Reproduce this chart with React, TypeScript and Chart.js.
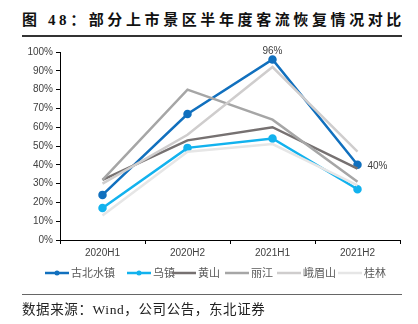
import React, { useEffect, useRef } from "react";
import { Chart, registerables } from "chart.js";

Chart.register(...registerables);

const categories = ["2020H1", "2020H2", "2021H1", "2021H2"];
const seriesNames = ["古北水镇", "乌镇", "黄山", "丽江", "峨眉山", "桂林"];
const gubei = [24, 67, 96, 40];
const wuzhen = [17, 49, 54, 27];
const huangshan = [32, 53, 60, 38];
const lijiang = [32, 80, 64, 31];
const emeishan = [30, 56, 92, 47];
const guilin = [13, 47, 51, 29];
const seriesColors = ["#1170BE", "#12B2EE", "#767171", "#A6A6A6", "#CFCDCD", "#E6E6E6"];
const yTicks = [0, 10, 20, 30, 40, 50, 60, 70, 80, 90, 100];
const titleText = "图 48：部分上市景区半年度客流恢复情况对比";
const sourceText = "数据来源：Wind，公司公告，东北证券";

const seriesValues = [gubei, wuzhen, huangshan, lijiang, emeishan, guilin];
const hasPoints = [true, true, false, false, false, false];

export default function App() {
  const ref = useRef<HTMLCanvasElement>(null);
  useEffect(() => {
    document.body.style.margin = "0";
    const ctx = ref.current!;
    const labelPlugin = {
      id: "labels",
      afterDatasetsDraw(chart: any) {
        const c = chart.ctx;
        const meta = chart.getDatasetMeta(0);
        c.save();
        c.font = "10px 'Liberation Sans', Arial, sans-serif";
        c.fillStyle = "#404040";
        const p2 = meta.data[2];
        c.textAlign = "center";
        c.textBaseline = "bottom";
        c.fillText(gubei[2] + "%", p2.x, p2.y - 3);
        const p3 = meta.data[3];
        c.textAlign = "left";
        c.textBaseline = "middle";
        c.fillText(gubei[3] + "%", p3.x + 10, p3.y + 1);
        c.restore();
      },
      afterDraw(chart: any) {
        const c = chart.ctx;
        const markerX = [45, 127, 172, 225, 277, 338];
        const y = 273;
        c.save();
        c.font = "11px 'Noto Sans CJK SC', sans-serif";
        c.textBaseline = "middle";
        c.textAlign = "left";
        seriesNames.forEach((n, i) => {
          const x0 = markerX[i];
          c.strokeStyle = seriesColors[i];
          c.lineWidth = 2.5;
          c.beginPath();
          c.moveTo(x0, y);
          c.lineTo(x0 + 24, y);
          c.stroke();
          if (hasPoints[i]) {
            c.fillStyle = seriesColors[i];
            c.beginPath();
            c.arc(x0 + 12, y, 2.5, 0, Math.PI * 2);
            c.fill();
          }
          c.fillStyle = "#595959";
          c.fillText(n, x0 + 26, y);
        });
        c.restore();
      },
    };
    const chart = new Chart(ctx, {
      type: "line",
      data: {
        labels: categories,
        datasets: seriesValues.map((vals, i) => ({
          label: seriesNames[i],
          data: vals,
          borderColor: seriesColors[i],
          backgroundColor: seriesColors[i],
          borderWidth: 2.5,
          pointRadius: hasPoints[i] ? 3 : 0,
          pointHoverRadius: 0,
          tension: 0,
          order: 6 - i,
        })),
      },
      options: {
        animation: false,
        responsive: false,
        events: [],
        layout: { padding: { left: 0, right: 18, top: 52, bottom: 64 } },
        plugins: { legend: { display: false }, tooltip: { enabled: false } },
        scales: {
          x: {
            offset: true,
            afterFit: (s: any) => { s.height = 20; },
            grid: {
              display: true,
              drawOnChartArea: false,
              offset: true,
              tickLength: 4,
              color: "#000",
            },
            border: { display: true, color: "#000", width: 1 },
            ticks: {
              color: "#404040",
              font: { family: "'Liberation Sans', Arial, sans-serif", size: 10 },
              padding: 3,
            },
          },
          y: {
            min: 0,
            max: 100,
            afterFit: (s: any) => { s.width = 60; },
            afterBuildTicks: (s: any) => { s.ticks = yTicks.map((v) => ({ value: v })); },
            grid: { display: true, drawOnChartArea: false, tickLength: 4, color: "#000" },
            border: { display: true, color: "#000", width: 1 },
            ticks: {
              color: "#404040",
              font: { family: "'Liberation Sans', Arial, sans-serif", size: 10 },
              padding: 3,
              callback: (v: any) => v + "%",
            },
          },
        },
      },
      plugins: [labelPlugin],
    } as any);
    return () => chart.destroy();
  }, []);
  return (
    <div style={{ position: "relative", width: 418, height: 324, background: "#fff", overflow: "hidden" }}>
      <div
        style={{
          position: "absolute",
          left: 22,
          top: 10,
          fontFamily: "'Liberation Serif', 'Noto Sans CJK SC', serif",
          fontWeight: "bold",
          fontSize: 15,
          letterSpacing: 3.6,
          color: "#111",
          whiteSpace: "nowrap",
          lineHeight: "20px",
        }}
      >
        {titleText}
      </div>
      <div style={{ position: "absolute", left: 22, top: 35, width: 380, height: 1.5, background: "#333" }} />
      <canvas ref={ref} width={418} height={324} style={{ position: "absolute", left: 0, top: 0, width: 418, height: 324 }} />
      <div style={{ position: "absolute", left: 22, top: 294, width: 380, height: 1, background: "#666" }} />
      <div
        style={{
          position: "absolute",
          left: 22,
          top: 300,
          fontFamily: "'Liberation Serif', 'Noto Sans CJK SC', serif",
          fontSize: 13.5,
          letterSpacing: 0.6,
          color: "#222",
          whiteSpace: "nowrap",
          lineHeight: "20px",
        }}
      >
        {sourceText}
      </div>
    </div>
  );
}
